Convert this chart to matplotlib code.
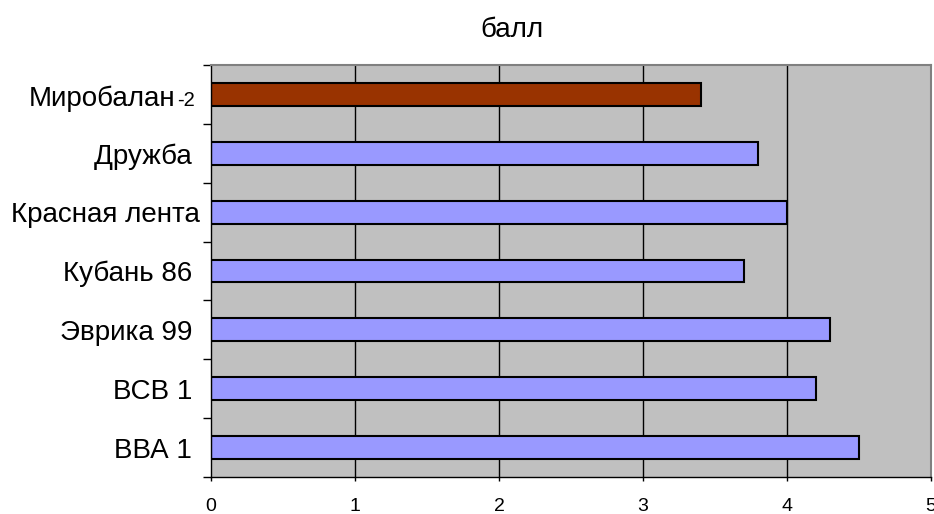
import numpy as np
import matplotlib.pyplot as plt

# data, top to bottom as shown
varieties = ["Миробалан", "Дружба", "Красная лента", "Кубань 86", "Эврика 99", "ВСВ 1", "ВВА 1"]
suffix = "-2"
scores = [3.4, 3.8, 4.0, 3.7, 4.3, 4.2, 4.5]
colors = ["#993300"] + ["#9999FF"] * 6
x_ticks = [0, 1, 2, 3, 4, 5]

plt.rcParams['font.family'] = ['Liberation Sans', 'DejaVu Sans']

fig = plt.figure(figsize=(9.34, 5.14), dpi=100)
ax = fig.add_axes([211 / 934, 1 - 477 / 514, (931 - 211) / 934, (477 - 65) / 514])

n = len(varieties)
ypos = np.arange(n)[::-1]
ax.set_facecolor("#C0C0C0")
for x in x_ticks[1:-1]:
    ax.axvline(x, color="black", lw=1, zorder=1)
ax.barh(ypos, scores, height=0.39, color=colors, edgecolor="black", lw=1.5, zorder=2)

ax.set_xlim(0, 5)
ax.set_ylim(-0.5, n - 0.5)
ax.set_xticks(x_ticks)
ax.set_xticklabels([str(t) for t in x_ticks], fontsize=14)
ax.tick_params(axis="x", length=3, width=1, pad=12, direction="out")

# boundary ticks on y, labels at centres
ax.set_yticks(np.arange(n + 1) - 0.5)
ax.set_yticklabels([])
ax.tick_params(axis="y", length=6, width=1, direction="out", color="black")
ax.set_yticks(ypos, minor=True)
labels = ["" if i == 0 else (v if v == "Красная лента" else v + " ")
          for i, v in enumerate(varieties)]
ax.set_yticklabels(labels, minor=True, fontsize=20)
ax.tick_params(axis="y", which="minor", length=0, pad=8)

# first label: name with a smaller suffix
t2 = ax.text(-16 / 720 * 5, ypos[0] - 0.2, suffix, ha="right", va="baseline", fontsize=14.5)
t2.set_clip_on(False)
ax.annotate(varieties[0], xy=(0, ypos[0] - 0.2), xycoords=(t2, "data"), ha="right",
            va="baseline", fontsize=20, xytext=(-1, 0), textcoords="offset points")

for side in ("top", "right"):
    ax.spines[side].set_color("#808080")
    ax.spines[side].set_linewidth(1.5)
for side in ("left", "bottom"):
    ax.spines[side].set_color("black")
    ax.spines[side].set_linewidth(1)

fig.text(512 / 934, 1 - 30 / 514, "балл", ha="center", va="center", fontsize=20)

fig.savefig("out.png", dpi=100)
